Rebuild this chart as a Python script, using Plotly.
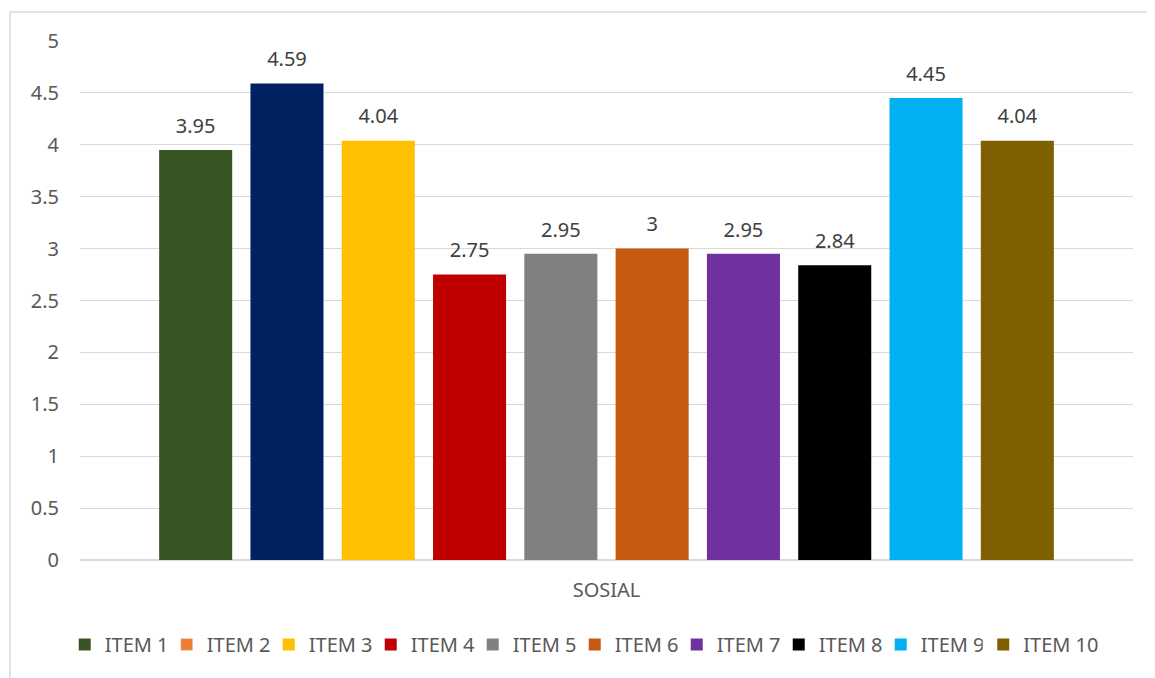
import plotly.graph_objects as go

category = "SOSIAL"
items = ["ITEM 1", "ITEM 2", "ITEM 3", "ITEM 4", "ITEM 5",
         "ITEM 6", "ITEM 7", "ITEM 8", "ITEM 9", "ITEM 10"]
values = [3.95, 4.59, 4.04, 2.75, 2.95, 3, 2.95, 2.84, 4.45, 4.04]
bar_colors = ["#375623", "#002060", "#FFC000", "#C00000", "#808080",
              "#C55A11", "#7030A0", "#000000", "#00B0F0", "#7F6000"]
legend_colors = ["#375623", "#ED7D31", "#FFC000", "#C00000", "#808080",
                 "#C55A11", "#7030A0", "#000000", "#00B0F0", "#7F6000"]
y_ticks = [0, 0.5, 1, 1.5, 2, 2.5, 3, 3.5, 4, 4.5, 5]

FONT = "Noto Sans"
TXT = "#595959"
GAP = 0.133

fig = go.Figure()
for i, (name, v, bc, lc) in enumerate(zip(items, values, bar_colors, legend_colors)):
    same = bc == lc
    lg = "legend2" if i == len(items) - 1 else "legend"
    fig.add_trace(go.Bar(
        x=[category], y=[v], name=name, offsetgroup=str(i),
        marker=dict(color=bc, line=dict(width=0)),
        showlegend=same, legendgroup=name, legend=lg, hoverinfo="skip",
    ))
    if not same:
        fig.add_trace(go.Bar(
            x=[category], y=[None], name=name, offsetgroup=str(i),
            marker=dict(color=lc), showlegend=True, legendgroup=name, legend=lg,
        ))

# value labels placed above each bar (grouped the same way as the bars)
for i, (name, v) in enumerate(zip(items, values)):
    fig.add_trace(go.Scatter(
        x=[category], y=[v], mode="markers+text", offsetgroup=str(i),
        text=[f"{v:g}"], textposition="top center",
        textfont=dict(family=FONT, size=20, color="#404040"),
        marker=dict(size=18, opacity=0), showlegend=False, hoverinfo="skip",
        cliponaxis=False,
    ))

leg_common = dict(orientation="h", yanchor="top", y=-0.125,
                  font=dict(family=FONT, size=20, color=TXT),
                  traceorder="normal", itemwidth=30, bgcolor="rgba(0,0,0,0)")

fig.update_layout(
    width=1155, height=678,
    margin=dict(l=72, r=30, t=33, b=126),
    paper_bgcolor="white", plot_bgcolor="white",
    barmode="group", bargap=GAP, bargroupgap=0.2,
    scattermode="group", scattergap=GAP,
    font=dict(family=FONT, size=20, color=TXT),
    showlegend=True,
    legend=dict(x=-0.0145, xanchor="left", entrywidth=57, entrywidthmode="pixels",
                **leg_common),
    legend2=dict(x=0.8578, xanchor="left", **leg_common),
    xaxis=dict(showgrid=False, showline=False, zeroline=False,
               ticks="", ticklabelstandoff=16,
               tickfont=dict(family=FONT, size=20, color=TXT)),
    yaxis=dict(range=[0, 5], tickvals=y_ticks, showgrid=True, gridcolor="#D9D9D9",
               gridwidth=1, zeroline=True, zerolinecolor="#D9D9D9", showline=False,
               ticks="", ticklabelstandoff=20,
               tickfont=dict(family=FONT, size=20, color=TXT)),
    shapes=[dict(type="rect", xref="paper", yref="paper",
                 x0=-0.0665, x1=1.2, y0=-0.35, y1=1.0559,
                 line=dict(color="#D9D9D9", width=1.5), fillcolor="rgba(0,0,0,0)", layer="below")],
)

fig.write_html("out.html")
